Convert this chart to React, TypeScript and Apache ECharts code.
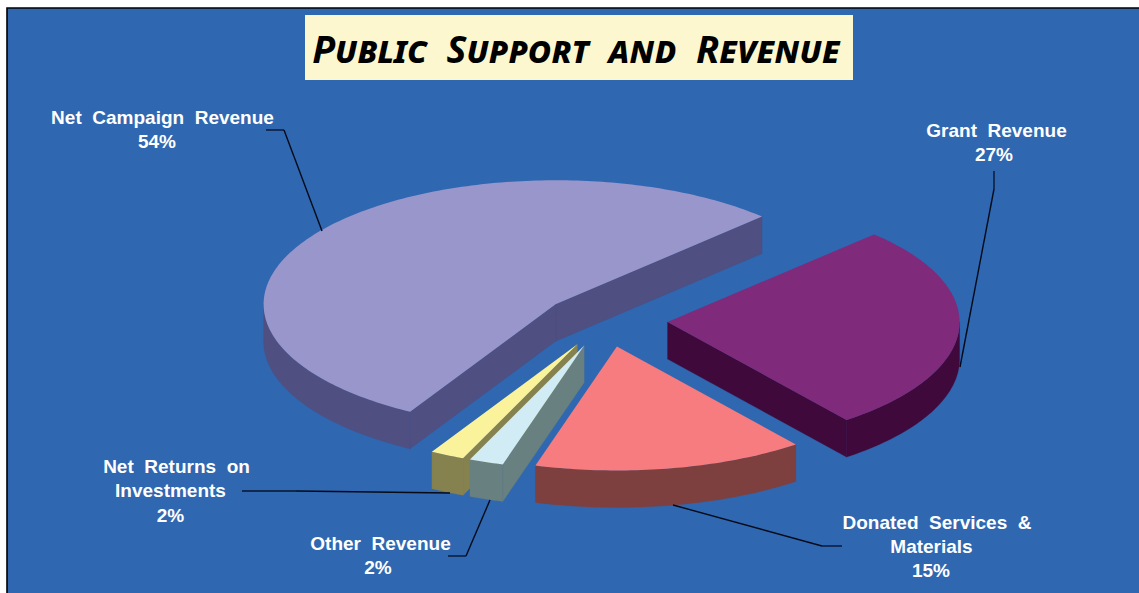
import React, { useEffect, useRef } from "react";
import * as echarts from "echarts";

const categories = ["Net Campaign Revenue", "Net Returns on Investments", "Other Revenue", "Donated Services & Materials", "Grant Revenue"];
const shares = [54.2, 1.9, 1.9, 15, 27];
const topColors = ["#9896CA", "#FBF39C", "#D1ECF4", "#F77C7F", "#7F2A7B"];
const sideColors = ["#4F4F82", "#858250", "#68807F", "#7E3F3F", "#3F0A3B"];

const PIE = { cx: 605.2, cy: 320.4, rx: 292, ry: 124, depth: 37, explode: 0.214, startAngle: 45 };

type Line = { text: string; x: number; y: number };
const LABELS: Line[] = [
  { text: "Net  Campaign  Revenue", x: 162.5, y: 117 },
  { text: "54%", x: 157, y: 141 },
  { text: "Grant  Revenue", x: 996.5, y: 130 },
  { text: "27%", x: 994, y: 154 },
  { text: "Donated  Services  &", x: 937, y: 522 },
  { text: "Materials", x: 931.5, y: 546 },
  { text: "15%", x: 931, y: 570 },
  { text: "Net  Returns  on", x: 176.5, y: 466 },
  { text: "Investments", x: 170.5, y: 490 },
  { text: "2%", x: 170.5, y: 515 },
  { text: "Other  Revenue", x: 380.5, y: 543 },
  { text: "2%", x: 378, y: 567 },
];

const LEADERS: { head: number[][]; tail: number[][] }[] = [
  { head: [[266, 130], [284, 130]], tail: [[284, 130], [322, 231]] },
  { head: [[994, 171], [994, 189]], tail: [[994, 189], [960, 367]] },
  { head: [[242, 491], [296, 491]], tail: [[296, 491], [450, 493]] },
  { head: [[448, 556], [466, 556]], tail: [[466, 556], [490, 500]] },
  { head: [[842, 546], [822, 546]], tail: [[822, 546], [673, 505]] },
];

const rad = (d: number) => (d * Math.PI) / 180;
const arcPoints = (ax: number, ay: number, a: number, b: number) => {
  const pts: number[][] = [];
  const n = Math.max(2, Math.ceil(Math.abs(b - a)));
  for (let i = 0; i <= n; i++) {
    const t = rad(a + ((b - a) * i) / n);
    pts.push([ax + PIE.rx * Math.cos(t), ay - PIE.ry * Math.sin(t)]);
  }
  return pts;
};

const total = shares.reduce((s, v) => s + v, 0);

function renderSlice(params: any, api: any) {
  const i = params.dataIndex;
  const before = shares.slice(0, i).reduce((s, v) => s + v, 0);
  const a = PIE.startAngle + (before / total) * 360;
  const b = a + (api.value(0) / total) * 360;
  const mid = rad((a + b) / 2);
  const ax = PIE.cx + PIE.explode * PIE.rx * Math.cos(mid);
  const ay = PIE.cy - PIE.explode * PIE.ry * Math.sin(mid);
  const d = PIE.depth;
  const side = sideColors[i];
  const children: any[] = [];
  const wall = (t: number) => {
    const p = arcPoints(ax, ay, t, t + 0.0001)[0];
    children.push({
      type: "polygon",
      shape: { points: [[ax, ay], p, [p[0], p[1] + d], [ax, ay + d]] },
      style: { fill: side, stroke: side, lineWidth: 0.3 },
    });
  };
  if (Math.sin(rad(a - 90)) < 0) wall(a);
  if (Math.sin(rad(b + 90)) < 0) wall(b);
  const r0 = Math.max(a, 180);
  const r1 = Math.min(b, 360);
  if (r1 > r0) {
    const arc = arcPoints(ax, ay, r0, r1);
    const low = arc.map((p) => [p[0], p[1] + d]).reverse();
    children.push({
      type: "polygon",
      shape: { points: arc.concat(low) },
      style: { fill: side, stroke: side, lineWidth: 0.3 },
    });
  }
  children.push({
    type: "polygon",
    shape: { points: [[ax, ay], ...arcPoints(ax, ay, a, b)] },
    style: { fill: topColors[i] },
  });
  return { type: "group", z2: Math.round(ay), children };
}

export default function App() {
  const ref = useRef<HTMLDivElement>(null);
  useEffect(() => {
    const chart = echarts.init(ref.current!, undefined, { renderer: "svg" });
    const order = shares.map((_, i) => i);
    const textEls = LABELS.map((l) => ({
      type: "text",
      x: l.x,
      y: l.y,
      z: 20,
      style: {
        text: l.text,
        fill: "#FFFFFF",
        align: "center",
        verticalAlign: "middle",
        font: 'bold 19px "Liberation Sans", Arial, sans-serif',
      },
    }));
    const leaderEls: any[] = [];
    LEADERS.forEach((l) => {
      leaderEls.push({ type: "polyline", z: 15, shape: { points: l.head }, style: { stroke: "#12284F", lineWidth: 1.8, fill: "none" } });
      leaderEls.push({ type: "polyline", z: 15, shape: { points: l.tail }, style: { stroke: "#050A18", lineWidth: 1.4, fill: "none" } });
    });
    chart.setOption({
      animation: false,
      backgroundColor: "#FFFFFF",
      graphic: [
        { type: "rect", z: -10, silent: true, shape: { x: 7, y: 8, width: 1140, height: 600 }, style: { fill: "#2F67B1", stroke: "#000000", lineWidth: 1.6 } },
        { type: "rect", z: 20, shape: { x: 305, y: 15, width: 548, height: 65 }, style: { fill: "#FCF7CE" } },
        {
          type: "text",
          z: 21,
          x: 576,
          y: 48,
          style: {
            text: "Public  Support  and  Revenue",
            fill: "#000000",
            align: "center",
            verticalAlign: "middle",
            font: 'italic small-caps bold 37.5px "Noto Sans", "Open Sans", sans-serif',
          },
        },
        ...leaderEls,
        ...textEls,
      ],
      series: [
        {
          type: "custom",
          coordinateSystem: "none",
          name: "Public Support and Revenue",
          silent: true,
          renderItem: renderSlice,
          data: order.map((i) => ({ name: categories[i], value: [shares[i]] })),
        },
      ],
    });
    return () => chart.dispose();
  }, []);
  return <div ref={ref} style={{ position: "absolute", left: 0, top: 0, width: 1139, height: 593, overflow: "hidden" }} />;
}
